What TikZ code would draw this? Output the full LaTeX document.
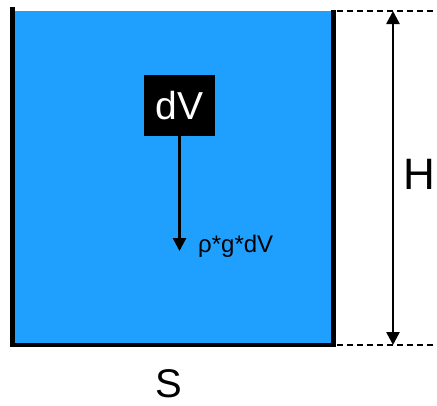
\documentclass[tikz,border=0pt]{standalone}
\usepackage{fontspec}
\setmainfont{Liberation Sans}
\usepackage{xcolor}
\usepackage{tikz}
\usetikzlibrary{positioning, arrows.meta}
\definecolor{waterblue}{HTML}{1FA0FF}

\begin{document}
\begin{tikzpicture}[x=1pt, y=-1pt,
    wall/.style={line width=4.5pt},
    level/.style={dashed, line width=2pt, dash pattern=on 6pt off 4pt},
    force/.style={line width=2.6pt, -{Triangle[length=13pt, width=13pt]}},
    span/.style={line width=2.6pt, {Triangle[length=13pt, width=13pt]}-{Triangle[length=13pt, width=13pt]}}]
    \useasboundingbox (0,0) rectangle (437,405);
    % water
    \fill[waterblue] (12,11) rectangle (334,345);
    % vessel
    \coordinate (wallTop) at (12.5,7);
    \coordinate (cornerLeft) at (12.5,345);
    \coordinate (cornerRight) at (333.5,345);
    \coordinate (rimRight) at (333.5,10);
    \draw[wall] (wallTop) -- (cornerLeft) -- (cornerRight) -- (rimRight);
    % height H
    \coordinate (surfaceEnd) at (437,11);
    \coordinate (bottomEnd) at (437,345);
    \coordinate (surfaceStart) at (337,11);
    \coordinate (bottomStart) at (337,345);
    \draw[level] (surfaceStart) -- (surfaceEnd);
    \draw[level] (bottomStart) -- (bottomEnd);
    \coordinate (hTop) at (393,11);
    \coordinate (hBottom) at (393,345);
    \draw[span] (hBottom) -- (hTop);
    \node[inner sep=0pt, font=\fontsize{44}{44}\selectfont] (heightLabel) at (419,174) {H};
    % volume element
    \node[fill=black, text=white, minimum width=71pt, minimum height=61pt,
          font=\fontsize{39}{39}\selectfont] (dV) at (179.5,105.5) {dV};
    \coordinate (weightEnd) at (179.5,251);
    \draw[force] (dV.south) -- (weightEnd);
    \node[anchor=base west, inner sep=0pt, font=\fontsize{24}{24}\selectfont]
        (weightLabel) at (198,252) {ρ*g*dV};
    % base area
    \node[inner sep=0pt, font=\fontsize{40}{40}\selectfont] (areaLabel) at (169,384) {S};
\end{tikzpicture}
\end{document}
